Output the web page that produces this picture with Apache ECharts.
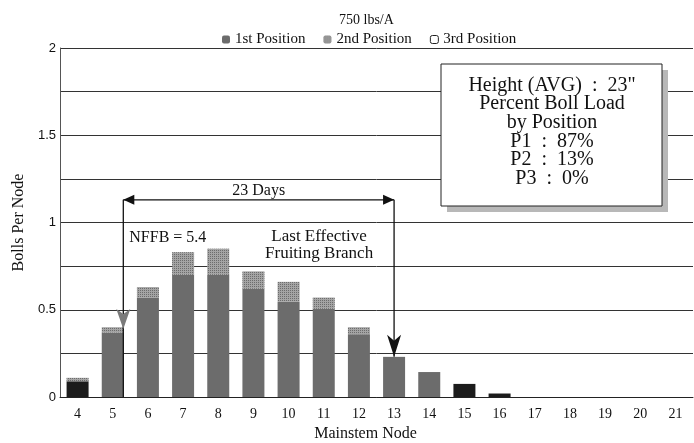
<!DOCTYPE html>
<html><head><meta charset="utf-8">
<script src="https://cdn.jsdelivr.net/npm/echarts@6/dist/echarts.min.js"></script>
<style>html,body{margin:0;padding:0;background:#fff}#c{width:694px;height:443px}</style>
</head><body><div id="c"></div>
<script>
// ---- data ----
const nodes = ['4','5','6','7','8','9','10','11','12','13','14','15','16','17','18','19','20','21'];
const pos1 = [0.09,0.37,0.57,0.70,0.70,0.62,0.545,0.505,0.36,0.23,0.143,0.075,0.02,0,0,0,0,0];
const pos2 = [0.02,0.03,0.06,0.13,0.15,0.10,0.115,0.065,0.04,0,0,0,0,0,0,0,0,0];
const pos3 = [0,0,0,0,0,0,0,0,0,0,0,0,0,0,0,0,0,0];
const darkNodes = ['4','15','16'];
const yLabels = [0, 0.5, 1, 1.5, 2];
const subtitle = '750 lbs/A';
const nffbNode = 5.3, lastNode = 13, spanY = 1.13;
const nffbTop = 0.39, lastTop = 0.23;
const boxLines = ['Height (AVG)  :  23"', 'Percent Boll Load', 'by Position', 'P1  :  87%', 'P2  :  13%', 'P3  :  0%'];

const serif = '"Liberation Serif", "DejaVu Serif", serif';
const sans = '"Liberation Sans", Arial, sans-serif';
const chart = echarts.init(document.getElementById('c'));

const option = {
  animation: false,
  backgroundColor: '#fff',
  title: { text: subtitle, left: 334, top: 8, textStyle: { fontFamily: serif, fontSize: 14, fontWeight: 'normal', color: '#111' } },
  legend: {
    top: 27, left: 217, itemWidth: 8, itemHeight: 8, itemGap: 18, itemStyle: { borderWidth: 0 },
    textStyle: { fontFamily: serif, fontSize: 15, color: '#111' },
    data: ['1st Position', '2nd Position',
      { name: '3rd Position', itemStyle: { color: '#fff', borderColor: '#222', borderWidth: 1 } }]
  },
  grid: { left: 60, right: 1, top: 48, bottom: 46, containLabel: false, outerBoundsMode: 'none' },
  xAxis: [{
    type: 'category', data: nodes,
    name: 'Mainstem Node', nameLocation: 'middle', nameGap: 28,
    nameTextStyle: { fontFamily: serif, fontSize: 16, color: '#111', padding: [0, 22, 0, 0] },
    axisLine: { lineStyle: { color: '#222' } },
    axisTick: { alignWithLabel: true, length: 3, lineStyle: { color: '#444' } },
    axisLabel: { fontFamily: serif, fontSize: 14, color: '#111', margin: 10 }
  }, {
    type: 'value', min: 3.5, max: 21.5, show: false
  }],
  yAxis: {
    type: 'value', min: 0, max: 2, interval: 0.25,
    name: 'Bolls Per Node', nameLocation: 'middle', nameGap: 26,
    nameTextStyle: { fontFamily: serif, fontSize: 16, color: '#111' },
    axisLine: { show: true, lineStyle: { color: '#555' } },
    axisTick: { show: false },
    axisLabel: {
      fontFamily: sans, fontSize: 13, color: '#111', margin: 4,
      formatter: v => yLabels.indexOf(v) >= 0 ? String(v) : ''
    },
    splitLine: { lineStyle: { color: '#333', width: 1 } }
  },
  series: [
    { name: '1st Position', type: 'bar', stack: 'b', barWidth: 22,
      itemStyle: { color: '#6c6c6c' },
      data: pos1.map((v, i) => darkNodes.indexOf(nodes[i]) >= 0 ? { value: v, itemStyle: { color: '#1c1c1c' } } : v) },
    { name: '2nd Position', type: 'bar', stack: 'b', barWidth: 22,
      itemStyle: { color: '#a4a4a4',
        decal: { symbol: 'rect', symbolSize: 1, color: 'rgba(40,40,40,0.45)', dashArrayX: [1, 1], dashArrayY: [1, 1] } },
      data: pos2 },
    { name: '3rd Position', type: 'bar', stack: 'b', barWidth: 22,
      itemStyle: { color: '#fff', borderWidth: 0 },
      data: pos3 }
  ]
};
chart.setOption(option);

function px(x, y) { return chart.convertToPixel({ xAxisIndex: 1, yAxisIndex: 0 }, [x, y]); }
const L0 = px(nffbNode, spanY), R0 = px(lastNode, spanY);
const Lb = px(nffbNode, 0), Lt = px(nffbNode, nffbTop), Rt = px(lastNode, lastTop);
const stroke = { stroke: '#111', lineWidth: 1.3 };
const g = [];
// horizontal span line
g.push({ type: 'line', shape: { x1: L0[0], y1: L0[1], x2: R0[0], y2: R0[1] }, style: stroke, z: 100 });
g.push({ type: 'polygon', shape: { points: [[L0[0], L0[1]], [L0[0] + 11, L0[1] - 5], [L0[0] + 11, L0[1] + 5]] }, style: { fill: '#111' }, z: 100 });
g.push({ type: 'polygon', shape: { points: [[R0[0], R0[1]], [R0[0] - 11, R0[1] - 5], [R0[0] - 11, R0[1] + 5]] }, style: { fill: '#111' }, z: 100 });
// verticals
g.push({ type: 'line', shape: { x1: L0[0], y1: L0[1], x2: Lb[0], y2: Lb[1] }, style: stroke, z: 100 });
g.push({ type: 'polygon', shape: { points: [[Lt[0], Lt[1]], [Lt[0] - 7, Lt[1] - 20], [Lt[0], Lt[1] - 15], [Lt[0] + 7, Lt[1] - 20]] }, style: { fill: '#7a7a7a' }, z: 100 });
g.push({ type: 'line', shape: { x1: R0[0], y1: R0[1], x2: Rt[0], y2: Rt[1] }, style: stroke, z: 100 });
g.push({ type: 'polygon', shape: { points: [[Rt[0], Rt[1]], [Rt[0] - 7, Rt[1] - 22], [Rt[0], Rt[1] - 16], [Rt[0] + 7, Rt[1] - 22]] }, style: { fill: '#111' }, z: 100 });
// labels
g.push({ type: 'text', x: (L0[0] + R0[0]) / 2, y: L0[1] - 9, style: { text: '23 Days', fontFamily: serif, fontSize: 16, fill: '#111', align: 'center', verticalAlign: 'middle' }, z: 101 });
g.push({ type: 'text', x: L0[0] + 6, y: L0[1] + 38, style: { text: 'NFFB = 5.4', fontFamily: serif, fontSize: 16, fill: '#111', align: 'left', verticalAlign: 'middle' }, z: 101 });
g.push({ type: 'text', x: R0[0] - 75, y: L0[1] + 45, style: { text: 'Last Effective\nFruiting Branch', fontFamily: serif, fontSize: 17, lineHeight: 17, fill: '#111', align: 'center', verticalAlign: 'middle' }, z: 101 });
// info box with hatched shadow
g.push({ type: 'rect', shape: { x: 447, y: 70, width: 221, height: 142 }, style: { fill: '#b8b8b8' }, z: 100 });
g.push({ type: 'rect', shape: { x: 441, y: 64, width: 221, height: 142 }, style: { fill: '#fff', stroke: '#222', lineWidth: 1 }, z: 101 });
g.push({ type: 'text', x: 552, y: 132, style: { text: boxLines.join('\n'), fontFamily: serif, fontSize: 20, lineHeight: 18.6, fill: '#111', align: 'center', verticalAlign: 'middle' }, z: 102 });
chart.setOption({ graphic: g });
</script></body></html>
